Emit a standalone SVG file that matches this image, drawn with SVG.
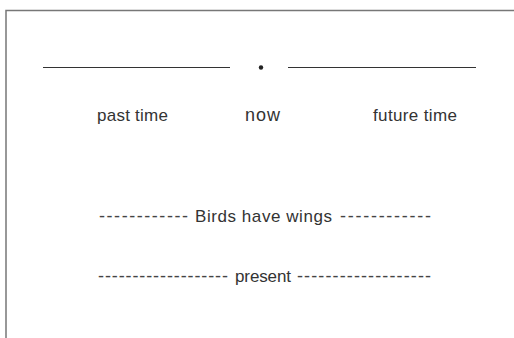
<svg xmlns="http://www.w3.org/2000/svg" width="514" height="338" viewBox="0 0 514 338">
<style>
.frame{fill:none;stroke:#777;stroke-width:1.5}
.rule{stroke:#333;stroke-width:1.2}
.t{font-family:"Liberation Sans",Arial,sans-serif;font-size:17px;fill:#333;text-anchor:start}
.d{font-family:"Liberation Sans",Arial,sans-serif;font-size:18px;fill:#444;text-anchor:start}
</style>
<rect width="514" height="338" fill="#fff"/>
<path class="frame" d="M6,338 V10.5 H514"/>
<g id="timeline">
<line class="rule" x1="43" y1="67.5" x2="230" y2="67.5"/>
<circle cx="261" cy="67.5" r="2.2" fill="#222"/>
<line class="rule" x1="288" y1="67.5" x2="476" y2="67.5"/>
</g>
<g id="past"><text class="t" x="97" y="121" textLength="71">past time</text></g>
<g id="now"><text class="t" x="245" y="121" style="font-size:18px" textLength="35">now</text></g>
<g id="future"><text class="t" x="373" y="121" textLength="84">future time</text></g>
<g id="sentence">
<text class="d" x="99" y="222" textLength="89">------------</text>
<text class="t" x="195" y="222" textLength="137">Birds have wings</text>
<text class="d" x="340" y="222" textLength="91">------------</text>
</g>
<g id="tense">
<text class="d" x="98" y="282" textLength="130">-------------------</text>
<text class="t" x="235" y="282" textLength="56">present</text>
<text class="d" x="297" y="282" textLength="134">-------------------</text>
</g>
</svg>
